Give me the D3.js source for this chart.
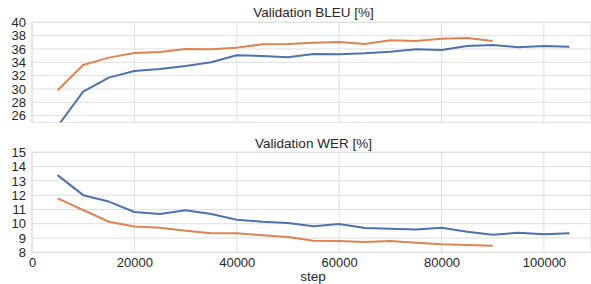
<!DOCTYPE html>
<html>
<head>
<meta charset="utf-8">
<script src="https://cdn.jsdelivr.net/npm/d3@7"></script>
<style>
  body { margin: 0; background: #fff; }
  svg { display: block; font-family: "Liberation Sans", Arial, sans-serif; }
</style>
</head>
<body>
<script>
const WIDTH = 591;
const HEIGHT = 284;

// steps, one point every 5000
const steps = [5000, 10000, 15000, 20000, 25000, 30000, 35000, 40000, 45000, 50000,
  55000, 60000, 65000, 70000, 75000, 80000, 85000, 90000, 95000, 100000, 105000];

const bleuBlue = [24.4, 29.6, 31.7, 32.7, 33.0, 33.45, 34.0, 35.05, 34.95, 34.75,
  35.25, 35.2, 35.35, 35.6, 35.95, 35.85, 36.45, 36.6, 36.25, 36.45, 36.35];
const bleuOrange = [29.8, 33.6, 34.7, 35.4, 35.55, 36.0, 35.95, 36.2, 36.7, 36.75,
  36.95, 37.05, 36.75, 37.3, 37.2, 37.55, 37.65, 37.2];

const werBlue = [13.4, 12.0, 11.55, 10.82, 10.68, 10.94, 10.68, 10.28, 10.14, 10.05,
  9.82, 9.98, 9.7, 9.65, 9.6, 9.72, 9.44, 9.23, 9.37, 9.26, 9.33];
const werOrange = [11.78, 10.96, 10.14, 9.8, 9.72, 9.51, 9.33, 9.33, 9.19, 9.07,
  8.81, 8.79, 8.72, 8.79, 8.67, 8.56, 8.51, 8.46];

const xTicks = [0, 20000, 40000, 60000, 80000, 100000];
const bleuTicks = [26, 28, 30, 32, 34, 36, 38, 40];
const werTicks = [8, 9, 10, 11, 12, 13, 14, 15];

const BLUE = "#4c72b0";
const ORANGE = "#dd8452";
const GRID = "#dedede";
const TEXT = "#262626";

const svg = d3.select("body").append("svg")
  .attr("width", WIDTH)
  .attr("height", HEIGHT);

const xScale = d3.scaleLinear().domain([0, 109200]).range([32, 591]);

function styleTicks(a) {
  a.select(".domain").remove();
  a.selectAll("text")
    .style("font-size", "13px")
    .style("font-family", "Liberation Sans, Arial, sans-serif")
    .attr("fill", TEXT);
}

function drawPanel(id, title, domain, ticks, top, bottom, series, titleY) {
  const yScale = d3.scaleLinear().domain(domain).range([bottom, top]);
  const g = svg.append("g").attr("id", id);
  const left = xScale.range()[0], right = xScale.range()[1];

  // clip so lines that go past the y range are cut at the frame
  svg.append("clipPath").attr("id", id + "-clip")
    .append("rect")
      .attr("x", left).attr("y", top)
      .attr("width", right - left).attr("height", bottom - top);

  // grid
  g.append("g").selectAll("line")
    .data(ticks)
    .enter().append("line")
      .attr("x1", left).attr("x2", right)
      .attr("y1", d => yScale(d)).attr("y2", d => yScale(d))
      .attr("stroke", GRID).attr("stroke-width", 1);
  g.append("g").selectAll("line")
    .data(xTicks)
    .enter().append("line")
      .attr("x1", d => xScale(d)).attr("x2", d => xScale(d))
      .attr("y1", top).attr("y2", bottom)
      .attr("stroke", GRID).attr("stroke-width", 1);
  g.append("rect")
    .attr("x", left).attr("y", top)
    .attr("width", right - left).attr("height", bottom - top)
    .attr("fill", "none").attr("stroke", GRID);

  // y axis labels
  const yAxis = d3.axisLeft(yScale).tickValues(ticks).tickSize(0).tickPadding(6)
    .tickFormat(d3.format("d"));
  g.append("g")
    .attr("transform", "translate(" + left + ",0)")
    .call(yAxis)
    .call(styleTicks);

  // lines
  const line = d3.line()
    .x((d, i) => xScale(steps[i]))
    .y(d => yScale(d));
  series.forEach(s => {
    g.append("path")
      .datum(s.values)
      .attr("d", line)
      .attr("clip-path", "url(#" + id + "-clip)")
      .attr("fill", "none")
      .attr("stroke", s.color)
      .attr("stroke-width", 2)
      .attr("stroke-linejoin", "round");
  });

  g.append("text")
    .attr("x", (left + right) / 2 + 2)
    .attr("y", titleY)
    .attr("text-anchor", "middle")
    .style("font-size", "13.5px")
    .attr("fill", TEXT)
    .text(title);
}

drawPanel("bleu", "Validation BLEU [%]", [25, 40], bleuTicks, 22.3, 122.3,
  [{ values: bleuBlue, color: BLUE }, { values: bleuOrange, color: ORANGE }], 17.3);

drawPanel("wer", "Validation WER [%]", [8, 15], werTicks, 152.3, 252.3,
  [{ values: werBlue, color: BLUE }, { values: werOrange, color: ORANGE }], 147.8);

// x axis under the bottom panel
const xAxis = d3.axisBottom(xScale).tickValues(xTicks).tickSize(0).tickPadding(5)
  .tickFormat(d3.format("d"));
svg.append("g")
  .attr("id", "x-axis")
  .attr("transform", "translate(0,252.3)")
  .call(xAxis)
  .call(styleTicks);

svg.append("text")
  .attr("x", 313)
  .attr("y", 280.5)
  .attr("text-anchor", "middle")
  .style("font-size", "13.5px")
  .attr("fill", TEXT)
  .text("step");
</script>
</body>
</html>
